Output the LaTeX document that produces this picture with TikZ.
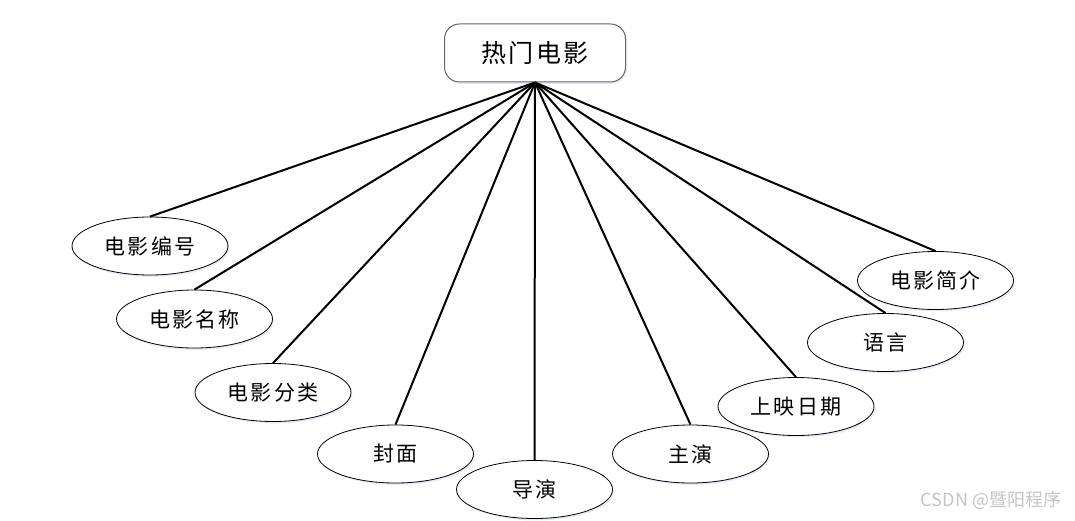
\documentclass[tikz,border=0pt]{standalone}
\usepackage{fontspec}
\usepackage{xcolor}
\usepackage{tikz}
\usetikzlibrary{positioning,shapes.geometric,shadows}
\newfontfamily\cjk[LetterSpace=10]{Noto Sans CJK SC}
\newfontfamily\wmfont{Noto Sans CJK SC}
\definecolor{hotedge}{HTML}{666666}
\definecolor{hotshade}{HTML}{DCE6F5}
\definecolor{markgrey}{HTML}{C4C4C4}

\begin{document}
\begin{tikzpicture}[
  x=1pt,y=-1pt,
  ent/.style={draw=hotedge,line width=1pt,fill=white,rounded corners=15pt,minimum width=181pt,minimum height=58pt,inner sep=0pt,
    font=\cjk\fontsize{25}{30}\selectfont,drop shadow={fill=hotshade,opacity=0.7,shadow xshift=1.5pt,shadow yshift=-2pt}},
  att/.style={ellipse,draw=black,line width=0.8pt,fill=white,minimum width=156pt,minimum height=58pt,inner sep=0pt,
    font=\cjk\fontsize{21}{26}\selectfont,drop shadow={fill=hotshade,opacity=0.7,shadow xshift=1.5pt,shadow yshift=-2pt}},
  lnk/.style={black,line width=2pt}
]
\useasboundingbox (0,0) rectangle (1075,521);

\node[ent] (hot) at (535,53) {热门电影};

\node[att] (num) at (150,246) {电影编号};
\node[att] (nam) at (194.5,319) {电影名称};
\node[att] (cls) at (273,392.5) {电影分类};
\node[att] (cov) at (395.5,454) {封面};
\node[att] (dir) at (534.5,489.5) {导演};
\node[att] (act) at (690.5,454) {主演};
\node[att] (dat) at (796,406.5) {上映日期};
\node[att] (lan) at (885.5,342.5) {语言};
\node[att] (syn) at (935.5,280.5) {电影简介};

% attributes hang off the entity
\foreach \a in {num,nam,cls,cov,dir,act,dat,lan,syn}
  \draw[lnk] (hot.south) -- (\a.north);

\node[text=markgrey,font=\wmfont\fontsize{18}{22}\selectfont] (mark) at (991,500) {CSDN @暨阳程序};
\end{tikzpicture}
\end{document}
